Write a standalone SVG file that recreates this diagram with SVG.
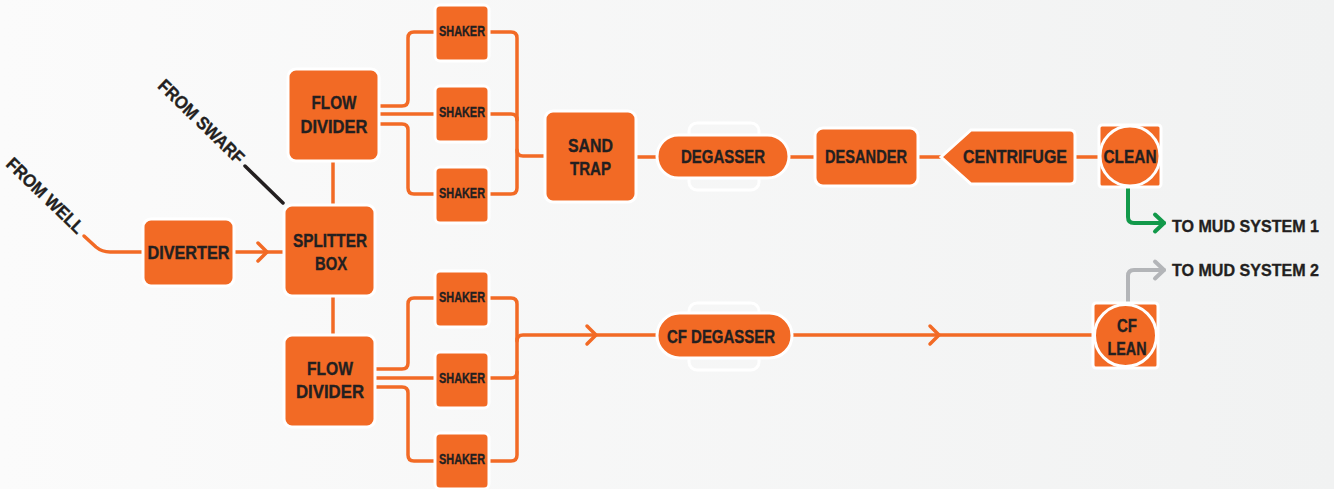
<svg xmlns="http://www.w3.org/2000/svg" width="1334" height="489" viewBox="0 0 1334 489">
<defs>
<linearGradient id="bg" x1="0" y1="0" x2="1" y2="0">
<stop offset="0" stop-color="#fbfbfb"/>
<stop offset="1" stop-color="#f1f2f2"/>
</linearGradient>
</defs>
<style>
.n{fill:#f26a25;stroke:#ffffff;stroke-width:3}
.ghost{fill:none;stroke:#ffffff;stroke-width:3}
.t{font-family:"Liberation Sans",Arial,sans-serif;font-weight:bold;font-size:18px;fill:#231f20;stroke:#231f20;stroke-width:0.35;text-anchor:middle}
.ts{font-size:14.5px}
.tl{font-family:"Liberation Sans",Arial,sans-serif;font-weight:bold;font-size:17px;fill:#231f20;stroke:#231f20;stroke-width:0.35}
.c{fill:none;stroke:#f26a25;stroke-width:3.5;stroke-linecap:round;stroke-linejoin:round}
.chev{fill:none;stroke:#f26a25;stroke-width:3.5;stroke-linecap:round;stroke-linejoin:miter}
.blk{fill:none;stroke:#231f20;stroke-width:3.5;stroke-linecap:round}
.grn{fill:none;stroke:#12994a;stroke-width:4;stroke-linecap:round;stroke-linejoin:round}
.gry{fill:none;stroke:#b3b5b8;stroke-width:4;stroke-linecap:round;stroke-linejoin:round}
</style>
<rect x="0" y="0" width="1334" height="489" fill="url(#bg)"/>

<g id="connectors">
<path class="c" d="M84,236 L96,247 Q102,252 110,252 H143"/>
<path class="blk" d="M245,166 L283,203"/>
<path class="c" d="M234,252 H284"/>
<path class="chev" d="M258,243 L267,252 L258,261"/>
<path class="c" d="M333,161 V205"/>
<path class="c" d="M333,296 V335"/>
<path class="c" d="M380,106 H402 Q408,106 408,100 V38 Q408,32 414,32 H435"/>
<path class="c" d="M380,114 H435"/>
<path class="c" d="M380,124 H402 Q408,124 408,130 V188 Q408,194 414,194 H435"/>
<path class="c" d="M489,32 H511 Q517,32 517,38 V188 Q517,194 511,194 H489"/>
<path class="c" d="M489,114 H511 Q517,114 517,120"/>
<path class="c" d="M517,150 Q517,156 523,156 H545"/>
<path class="c" d="M376,369 H402 Q408,369 408,363 V304 Q408,298 414,298 H435"/>
<path class="c" d="M376,378 H435"/>
<path class="c" d="M376,387 H402 Q408,387 408,393 V455 Q408,461 414,461 H435"/>
<path class="c" d="M489,298 H511 Q517,298 517,304 V455 Q517,461 511,461 H489"/>
<path class="c" d="M489,378 H511 Q517,378 517,372"/>
<path class="c" d="M517,341 Q517,335 523,335 H657"/>
<path class="chev" d="M587,326 L596,335 L587,344"/>
<path class="c" d="M792,335 H1093"/>
<path class="chev" d="M930,326 L939,335 L930,344"/>
<path class="c" d="M636,157 H657"/>
<path class="c" d="M789,157 H815"/>
<path class="c" d="M918,157 H941"/>
<path class="c" d="M1075,157 H1099"/>
<path class="grn" d="M1128,188 V217 Q1128,223 1134,223 H1164"/>
<path class="grn" d="M1155,214.5 L1164,223 L1155,231.5"/>
<path class="gry" d="M1128,302 V276 Q1128,270 1134,270 H1164"/>
<path class="gry" d="M1155,261.5 L1164,270 L1155,278.5"/>
</g>

<g id="from-well">
<text class="tl" x="41" y="200" text-anchor="middle" textLength="100" lengthAdjust="spacingAndGlyphs" transform="rotate(44 41 200)" style="font-size:18px">FROM WELL</text>
</g>
<g id="from-swarf">
<text class="tl" x="197" y="126" text-anchor="middle" textLength="112" lengthAdjust="spacingAndGlyphs" transform="rotate(44 197 126)" style="font-size:18px">FROM SWARF</text>
</g>

<g id="diverter">
<rect class="n" x="143" y="219" width="91" height="67" rx="8"/>
<text class="t" x="188.5" y="259" textLength="82" lengthAdjust="spacingAndGlyphs">DIVERTER</text>
</g>
<g id="splitter-box">
<rect class="n" x="284" y="205" width="91" height="91" rx="8"/>
<text class="t" x="330" y="247" textLength="74" lengthAdjust="spacingAndGlyphs">SPLITTER</text>
<text class="t" x="331" y="270" textLength="32" lengthAdjust="spacingAndGlyphs">BOX</text>
</g>
<g id="flow-divider-1">
<rect class="n" x="288" y="69" width="91" height="92" rx="8"/>
<text class="t" x="334" y="109" textLength="45" lengthAdjust="spacingAndGlyphs">FLOW</text>
<text class="t" x="334" y="133" textLength="67" lengthAdjust="spacingAndGlyphs">DIVIDER</text>
</g>
<g id="flow-divider-2">
<rect class="n" x="284" y="335" width="91" height="92" rx="8"/>
<text class="t" x="330" y="375" textLength="46" lengthAdjust="spacingAndGlyphs">FLOW</text>
<text class="t" x="330" y="398" textLength="68" lengthAdjust="spacingAndGlyphs">DIVIDER</text>
</g>
<g id="shaker-1">
<rect class="n" x="435" y="5" width="54" height="56" rx="5"/>
<text class="t ts" x="462" y="36" textLength="46" lengthAdjust="spacingAndGlyphs">SHAKER</text>
</g>
<g id="shaker-2">
<rect class="n" x="435" y="86" width="54" height="56" rx="5"/>
<text class="t ts" x="462" y="117" textLength="46" lengthAdjust="spacingAndGlyphs">SHAKER</text>
</g>
<g id="shaker-3">
<rect class="n" x="435" y="167" width="54" height="56" rx="5"/>
<text class="t ts" x="462" y="198" textLength="46" lengthAdjust="spacingAndGlyphs">SHAKER</text>
</g>
<g id="shaker-4">
<rect class="n" x="435" y="271" width="54" height="56" rx="5"/>
<text class="t ts" x="462" y="302" textLength="46" lengthAdjust="spacingAndGlyphs">SHAKER</text>
</g>
<g id="shaker-5">
<rect class="n" x="435" y="352" width="54" height="56" rx="5"/>
<text class="t ts" x="462" y="383" textLength="46" lengthAdjust="spacingAndGlyphs">SHAKER</text>
</g>
<g id="shaker-6">
<rect class="n" x="435" y="433" width="54" height="56" rx="5"/>
<text class="t ts" x="462" y="464" textLength="46" lengthAdjust="spacingAndGlyphs">SHAKER</text>
</g>
<g id="sand-trap">
<rect class="n" x="545" y="111" width="91" height="91" rx="8"/>
<text class="t" x="590.5" y="152" textLength="45" lengthAdjust="spacingAndGlyphs">SAND</text>
<text class="t" x="590.5" y="175" textLength="41" lengthAdjust="spacingAndGlyphs">TRAP</text>
</g>
<g id="degasser">
<rect class="ghost" x="689" y="123" width="70" height="67" rx="8"/>
<rect class="n" x="657" y="135" width="132" height="43" rx="21.5"/>
<text class="t" x="723" y="163" textLength="84" lengthAdjust="spacingAndGlyphs">DEGASSER</text>
</g>
<g id="desander">
<rect class="n" x="815" y="128" width="103" height="58" rx="8"/>
<text class="t" x="866" y="163" textLength="82" lengthAdjust="spacingAndGlyphs">DESANDER</text>
</g>
<g id="centrifuge">
<path class="n" d="M941,157 L971,130 H1070 Q1075,130 1075,135 V179 Q1075,184 1070,184 H971 Z"/>
<text class="t" x="1015" y="163" textLength="104" lengthAdjust="spacingAndGlyphs">CENTRIFUGE</text>
</g>
<g id="clean">
<rect class="n" x="1099" y="125" width="62" height="62" rx="3"/>
<circle class="n" cx="1130" cy="156" r="30"/>
<text class="t" x="1130" y="163" textLength="53" lengthAdjust="spacingAndGlyphs">CLEAN</text>
</g>
<g id="cf-degasser">
<rect class="ghost" x="689" y="303" width="70" height="67" rx="8"/>
<rect class="n" x="657" y="313" width="135" height="45" rx="22.5"/>
<text class="t" x="721" y="343" textLength="108" lengthAdjust="spacingAndGlyphs">CF DEGASSER</text>
</g>
<g id="cf-lean">
<rect class="n" x="1093" y="303" width="65" height="65" rx="3"/>
<circle class="n" cx="1125.5" cy="335.5" r="31"/>
<text class="t" x="1127" y="332" textLength="20" lengthAdjust="spacingAndGlyphs">CF</text>
<text class="t" x="1127" y="355" textLength="39" lengthAdjust="spacingAndGlyphs">LEAN</text>
</g>
<g id="to-mud-1">
<text class="tl" x="1172" y="232" textLength="147" lengthAdjust="spacingAndGlyphs">TO MUD SYSTEM 1</text>
</g>
<g id="to-mud-2">
<text class="tl" x="1172" y="276" textLength="147" lengthAdjust="spacingAndGlyphs">TO MUD SYSTEM 2</text>
</g>
</svg>
